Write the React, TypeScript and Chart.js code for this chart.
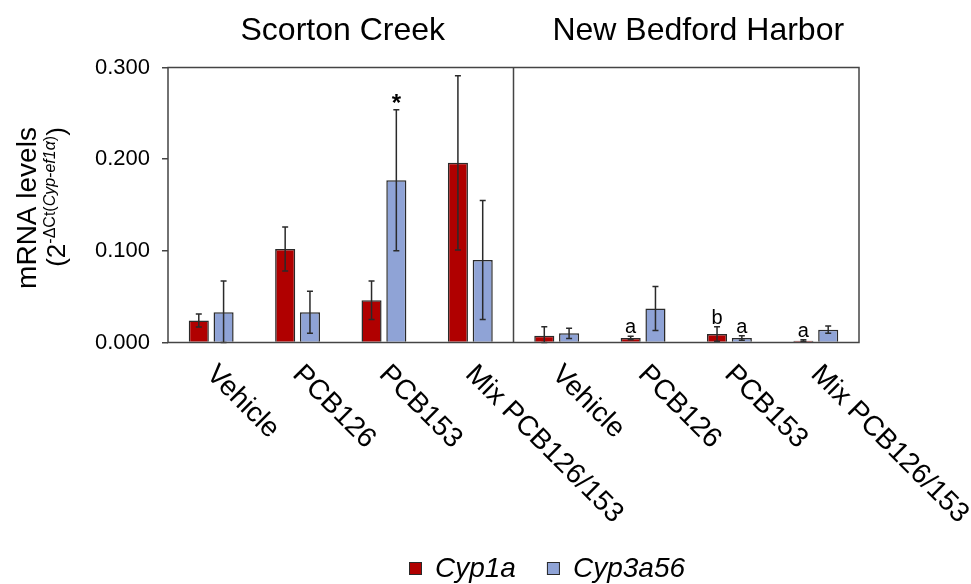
import React, { useEffect, useRef } from "react";
import { Chart, registerables } from "chart.js";

Chart.register(...registerables);

const categories = ["Vehicle", "PCB126", "PCB153", "Mix PCB126/153", "Vehicle", "PCB126", "PCB153", "Mix PCB126/153"];
const groupTitles = ["Scorton Creek", "New Bedford Harbor"];
const seriesNames = ["Cyp1a", "Cyp3a56"];
const cyp1a = [0.024, 0.102, 0.046, 0.196, 0.0074, 0.0049, 0.0093, 0.002];
const cyp1aErr = [0.007, 0.024, 0.021, 0.095, 0.0098, 0.002, 0.008, 0.001];
const cyp3a56 = [0.033, 0.033, 0.177, 0.09, 0.01, 0.037, 0.005, 0.014];
const cyp3a56Err = [0.034, 0.023, 0.077, 0.065, 0.0055, 0.024, 0.0025, 0.004];
const cyp1aMarks = ["", "", "", "", "", "a", "b", "a"];
const cyp3a56Marks = ["", "", "*", "", "", "", "a", ""];
const yTicks = [0, 0.1, 0.2, 0.3];

const FONT = '"Liberation Sans", Arial, sans-serif';
const RED = "#B00000";
const BLUE = "#8FA3D6";
const EDGE = "#2a2a2a";

const values = [cyp1a, cyp3a56];
const errors = [cyp1aErr, cyp3a56Err];
const marks = [cyp1aMarks, cyp3a56Marks];
const colors = [RED, BLUE];

const decor = {
  id: "decor",
  afterDraw(chart: any) {
    const { ctx, chartArea: a, scales } = chart;
    const x = scales.x;
    const y = scales.y;
    ctx.save();

    // error bars and marks
    chart.data.datasets.forEach((ds: any, di: number) => {
      const meta = chart.getDatasetMeta(di);
      meta.data.forEach((bar: any, i: number) => {
        const v = values[di][i];
        const e = errors[di][i];
        const yt = y.getPixelForValue(v + e);
        const yb = y.getPixelForValue(Math.max(0, v - e));
        ctx.strokeStyle = EDGE;
        ctx.lineWidth = 1.5;
        ctx.beginPath();
        ctx.moveTo(bar.x, yt);
        ctx.lineTo(bar.x, yb);
        ctx.moveTo(bar.x - 3, yt);
        ctx.lineTo(bar.x + 3, yt);
        ctx.moveTo(bar.x - 3, yb);
        ctx.lineTo(bar.x + 3, yb);
        ctx.stroke();
        const m = marks[di][i];
        if (m) {
          ctx.fillStyle = "#000";
          ctx.textAlign = "center";
          ctx.textBaseline = "alphabetic";
          if (m === "*") {
            ctx.font = `bold 24px ${FONT}`;
            ctx.fillText(m, bar.x, yt + 1);
          } else {
            ctx.font = `20px ${FONT}`;
            ctx.fillText(m, bar.x, yt - 3);
          }
        }
      });
    });

    // frame
    ctx.strokeStyle = "#444";
    ctx.lineWidth = 1.5;
    ctx.strokeRect(a.left, a.top, a.right - a.left, a.bottom - a.top);
    const xd = (x.getPixelForValue(3) + x.getPixelForValue(4)) / 2;
    ctx.beginPath();
    ctx.moveTo(xd, a.top);
    ctx.lineTo(xd, a.bottom);
    ctx.stroke();

    // group titles
    ctx.fillStyle = "#000";
    ctx.font = `32px ${FONT}`;
    ctx.textAlign = "center";
    ctx.textBaseline = "alphabetic";
    const t1 = (x.getPixelForValue(1) + x.getPixelForValue(2)) / 2 + 2;
    const t2 = (x.getPixelForValue(5) + x.getPixelForValue(6)) / 2 + 12;
    ctx.fillText(groupTitles[0], t1, 40);
    ctx.fillText(groupTitles[1], t2, 40);

    // rotated category labels
    ctx.font = `28px ${FONT}`;
    ctx.textAlign = "left";
    categories.forEach((c, i) => {
      const px = x.getPixelForValue(i);
      ctx.save();
      ctx.translate(px - 6, a.bottom + 33);
      ctx.rotate(Math.PI / 4);
      ctx.fillText(c, 0, 0);
      ctx.restore();
    });

    // y title
    ctx.save();
    ctx.translate(36, 208);
    ctx.rotate(-Math.PI / 2);
    ctx.font = `28px ${FONT}`;
    ctx.textAlign = "center";
    ctx.fillText("mRNA levels", 0, 0);
    ctx.restore();

    const parts = [
      { t: "(", f: `26px ${FONT}`, s: 0 },
      { t: "2", f: `26px ${FONT}`, s: 0 },
      { t: "-ΔCt(", f: `16px ${FONT}`, s: 1 },
      { t: "Cyp-ef1α", f: `italic 16px ${FONT}`, s: 1 },
      { t: ")", f: `16px ${FONT}`, s: 1 },
      { t: ")", f: `26px ${FONT}`, s: 0 },
    ];
    ctx.save();
    ctx.translate(65, 197);
    ctx.rotate(-Math.PI / 2);
    ctx.textAlign = "left";
    let total = 0;
    parts.forEach((p) => {
      ctx.font = p.f;
      total += ctx.measureText(p.t).width;
    });
    let cx = -total / 2;
    parts.forEach((p) => {
      ctx.font = p.f;
      ctx.fillText(p.t, cx, p.s ? -10 : 0);
      cx += ctx.measureText(p.t).width;
    });
    ctx.restore();

    // legend
    ctx.font = `italic 28px ${FONT}`;
    ctx.textAlign = "left";
    let lx = 409;
    seriesNames.forEach((n, i) => {
      ctx.fillStyle = colors[i];
      ctx.fillRect(lx, 562, 13, 13);
      ctx.strokeStyle = EDGE;
      ctx.lineWidth = 1;
      ctx.strokeRect(lx + 0.5, 562.5, 12, 12);
      ctx.fillStyle = "#000";
      ctx.fillText(n, lx + 26, 577);
      lx += 26 + ctx.measureText(n).width + 31;
    });

    ctx.restore();
  },
};

export default function App() {
  const ref = useRef<HTMLCanvasElement | null>(null);
  useEffect(() => {
    if (!ref.current) return;
    const chart = new Chart(ref.current, {
      type: "bar",
      data: {
        labels: categories,
        datasets: seriesNames.map((n, i) => ({
          label: n,
          data: values[i],
          backgroundColor: colors[i],
          borderColor: EDGE,
          borderWidth: 1.5,
          categoryPercentage: 0.574,
          barPercentage: 0.81,
        })),
      },
      options: {
        responsive: false,
        animation: false,
        devicePixelRatio: 1,
        layout: { padding: { top: 67.5, right: 112, left: 0, bottom: 0 } },
        plugins: { legend: { display: false }, tooltip: { enabled: false }, title: { display: false } },
        scales: {
          x: {
            type: "category",
            ticks: { display: false },
            grid: { display: false },
            border: { display: false },
            afterFit: (s: any) => {
              s.height = 241.5;
            },
          },
          y: {
            min: 0,
            max: 0.3,
            afterBuildTicks: (s: any) => {
              s.ticks = yTicks.map((v) => ({ value: v }));
            },
            ticks: {
              callback: (v: any) => Number(v).toFixed(3),
              font: { family: FONT, size: 22 },
              color: "#000",
              padding: 12,
            },
            grid: { drawOnChartArea: false, drawTicks: true, tickLength: 6, color: "#444", lineWidth: 1.5 },
            border: { display: false },
            afterFit: (s: any) => {
              s.width = 168;
            },
          },
        },
      },
      plugins: [decor],
    } as any);
    return () => chart.destroy();
  }, []);
  return (
    <div style={{ position: "absolute", left: 0, top: 0, width: 971, height: 584, background: "#fff" }}>
      <canvas ref={ref} width={971} height={584} style={{ display: "block" }} />
    </div>
  );
}
